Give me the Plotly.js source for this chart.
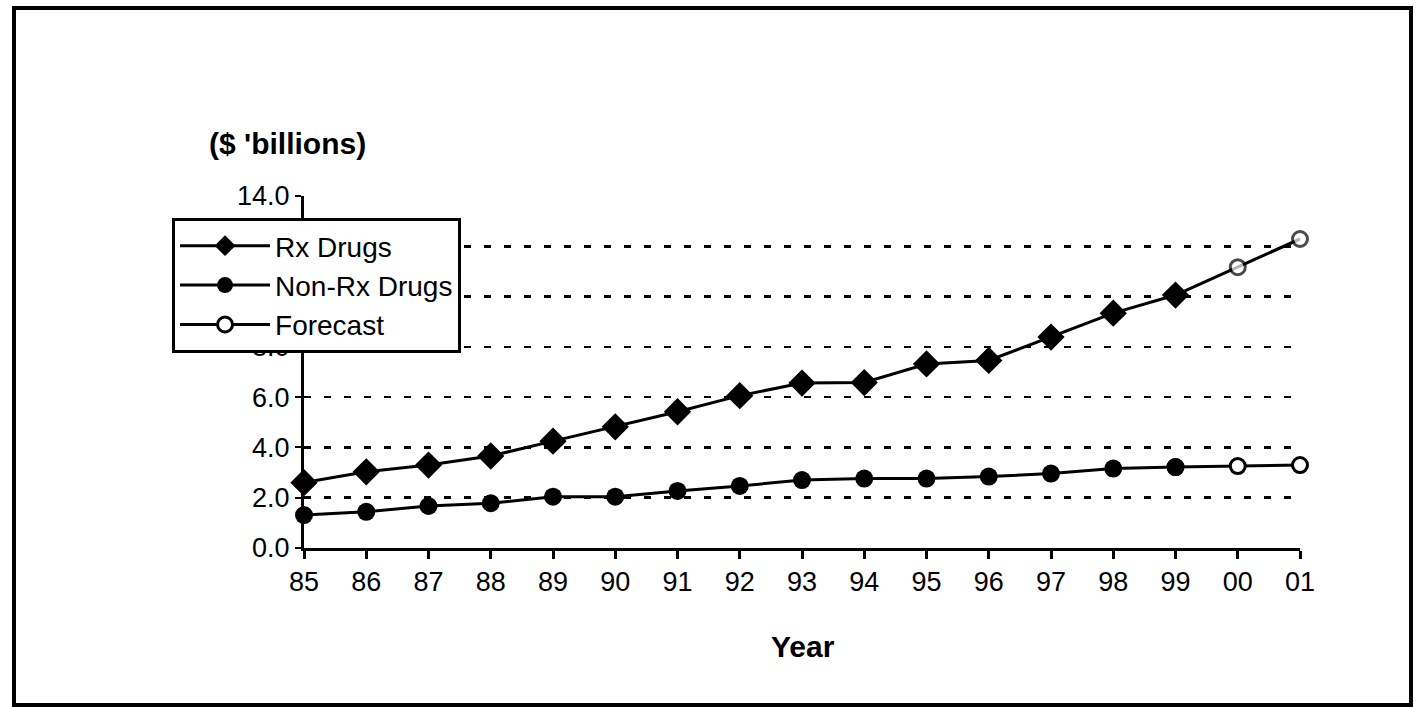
<!DOCTYPE html>
<html>
<head>
<meta charset="utf-8">
<script src="https://cdn.plot.ly/plotly-3.0.1.min.js"></script>
<style>
  html, body { margin: 0; padding: 0; background: #fff; }
  #chart { width: 1420px; height: 707px; }
  #frame { position: absolute; left: 12px; top: 6px; width: 1393px; height: 693px; border: 4px solid #000; pointer-events: none; }
</style>
</head>
<body>
<div id="chart"></div>
<div id="frame"></div>
<script>
// Data
const years = ["85","86","87","88","89","90","91","92","93","94","95","96","97","98","99","00","01"];
const rxYears = years.slice(0, 15);
const rxDrugs = [2.6, 3.03, 3.3, 3.66, 4.25, 4.82, 5.42, 6.06, 6.56, 6.58, 7.32, 7.46, 8.39, 9.34, 10.06];
const nonRxDrugs = [1.31, 1.44, 1.67, 1.78, 2.04, 2.04, 2.27, 2.47, 2.70, 2.76, 2.76, 2.84, 2.96, 3.16, 3.22];
const forecastYears = ["99", "00", "01"];
const rxForecast = [10.06, 11.17, 12.29];
const nonRxForecast = [3.22, 3.26, 3.30];
const yTicks = [0, 2, 4, 6, 8, 10, 12, 14];

const FONT = "Liberation Sans, Arial, sans-serif";
const lineStyle = {color: "#000", width: 3};
const openMarker = {symbol: "circle", size: 15, color: "#fff", line: {color: "#000", width: 3}};

const traces = [
  {
    x: forecastYears, y: rxForecast, type: "scatter", mode: "lines+markers",
    name: "Forecast", showlegend: false, cliponaxis: false,
    line: lineStyle,
    marker: {symbol: "circle", size: [0, 15, 15], color: "#fff", line: {color: "#000", width: 3}}
  },
  {
    x: forecastYears, y: nonRxForecast, type: "scatter", mode: "lines+markers",
    name: "Forecast", legendrank: 3, cliponaxis: false,
    line: lineStyle, marker: openMarker
  },
  {
    x: rxYears, y: rxDrugs, type: "scatter", mode: "lines+markers",
    name: "Rx Drugs", legendrank: 1, cliponaxis: false,
    line: lineStyle,
    marker: {symbol: "diamond", size: 21, color: "#000"}
  },
  {
    x: rxYears, y: nonRxDrugs, type: "scatter", mode: "lines+markers",
    name: "Non-Rx Drugs", legendrank: 2, cliponaxis: false,
    line: lineStyle,
    marker: {symbol: "circle", size: 18, color: "#000"}
  }
];

const layout = {
  width: 1420, height: 707,
  paper_bgcolor: "#fff", plot_bgcolor: "#fff",
  margin: {l: 304, r: 120, t: 196, b: 159},
  font: {family: FONT, color: "#000", size: 27},
  showlegend: true,
  legend: {
    x: -0.1325, y: 0.9375, xanchor: "left", yanchor: "top",
    bgcolor: "#fff", bordercolor: "#000", borderwidth: 3,
    font: {family: FONT, size: 28, color: "#000"},
    itemwidth: 90, tracegroupgap: 0
  },
  xaxis: {
    type: "category", categoryorder: "array", categoryarray: years,
    range: [0, 16],
    showgrid: false, zeroline: false,
    showline: true, linecolor: "#000", linewidth: 3,
    ticks: "outside", ticklen: 8, tickwidth: 3, tickcolor: "#000",
    tickfont: {family: FONT, size: 27, color: "#000"}
  },
  yaxis: {
    range: [0, 14],
    tickvals: yTicks, tickformat: ".1f",
    showgrid: true, gridcolor: "#000", gridwidth: 2.5, griddash: "7px,13px",
    zeroline: false,
    showline: true, linecolor: "#000", linewidth: 3,
    ticks: "outside", ticklen: 6, tickwidth: 2, tickcolor: "#000",
    tickfont: {family: FONT, size: 27, color: "#000"}
  },
  annotations: [
    {
      text: "<b>($ 'billions)</b>", xref: "paper", yref: "paper",
      x: -0.017, y: 1.15, xanchor: "center", yanchor: "middle",
      showarrow: false, font: {family: FONT, size: 30, color: "#000"}
    },
    {
      text: "<b>Year</b>", xref: "paper", yref: "paper",
      x: 0.501, y: -0.281, xanchor: "center", yanchor: "middle",
      showarrow: false, font: {family: FONT, size: 30, color: "#000"}
    }
  ]
};

Plotly.newPlot("chart", traces, layout, {displayModeBar: false, staticPlot: true});
</script>
</body>
</html>
